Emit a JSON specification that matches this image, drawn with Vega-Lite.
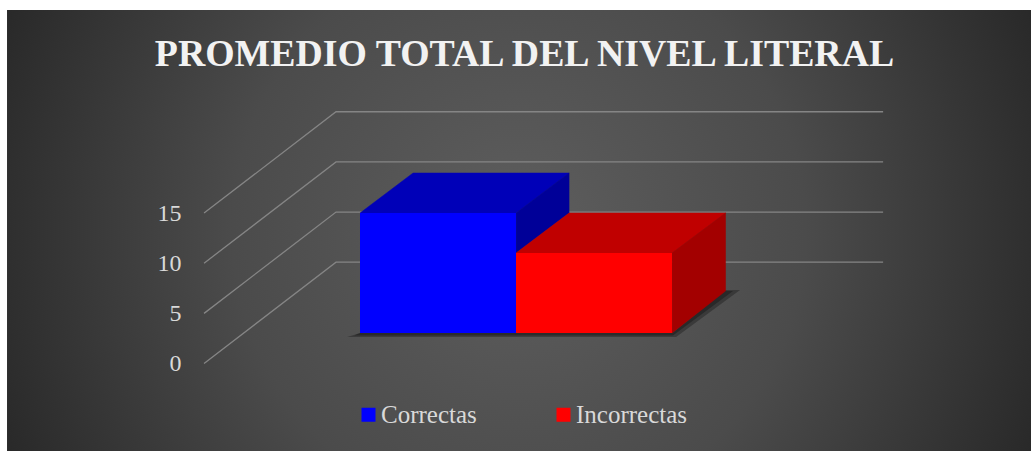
{
"$schema":"https://vega.github.io/schema/vega-lite/v6.json",
"width":1031,"height":451,
"autosize":{"type":"fit","contains":"padding"},
"padding":0,
"background":"#ffffff",
"config":{"view":{"stroke":null}},
"title":{"text":"PROMEDIO TOTAL DEL NIVEL LITERAL","font":"Liberation Serif","fontWeight":"bold","fontSize":37.8,"color":"#f2f2f2","anchor":"middle","frame":"group","offset":-74,"dx":9},
"datasets":{
"barras":[{"serie":"Correctas","valor":12},{"serie":"Incorrectas","valor":8}],
"rejilla":[
{"nivel":0,"orden":1,"x":-1.0,"y":0},{"nivel":0,"orden":2,"x":-0.154,"y":10.1},{"nivel":0,"orden":3,"x":3.353,"y":10.1},
{"nivel":5,"orden":1,"x":-1.0,"y":5},{"nivel":5,"orden":2,"x":-0.154,"y":15.1},{"nivel":5,"orden":3,"x":3.353,"y":15.1},
{"nivel":10,"orden":1,"x":-1.0,"y":10},{"nivel":10,"orden":2,"x":-0.154,"y":20.1},{"nivel":10,"orden":3,"x":3.353,"y":20.1},
{"nivel":15,"orden":1,"x":-1.0,"y":15},{"nivel":15,"orden":2,"x":-0.154,"y":25.1},{"nivel":15,"orden":3,"x":3.353,"y":25.1}
],
"sombra":[
{"capa":"exterior","orden":1,"x":-0.083,"y":-0.4},{"capa":"exterior","orden":2,"x":2.026,"y":-0.4},{"capa":"exterior","orden":3,"x":2.436,"y":4.3},{"capa":"exterior","orden":4,"x":2.34,"y":4.3},{"capa":"exterior","orden":5,"x":2,"y":0},{"capa":"exterior","orden":6,"x":0,"y":0},
{"capa":"interior","orden":1,"x":-0.038,"y":-0.25},{"capa":"interior","orden":2,"x":2.006,"y":-0.25},{"capa":"interior","orden":3,"x":2.391,"y":4.2},{"capa":"interior","orden":4,"x":2.34,"y":4.2},{"capa":"interior","orden":5,"x":2,"y":0},{"capa":"interior","orden":6,"x":0,"y":0}
],
"caras":[
{"cara":"Correctas superior","orden":1,"x":0,"y":12},{"cara":"Correctas superior","orden":2,"x":0.34,"y":16},{"cara":"Correctas superior","orden":3,"x":1.34,"y":16},{"cara":"Correctas superior","orden":4,"x":1,"y":12},
{"cara":"Correctas lateral","orden":1,"x":1,"y":12},{"cara":"Correctas lateral","orden":2,"x":1.34,"y":16},{"cara":"Correctas lateral","orden":3,"x":1.34,"y":12},{"cara":"Correctas lateral","orden":4,"x":1,"y":8},
{"cara":"Incorrectas superior","orden":1,"x":1,"y":8},{"cara":"Incorrectas superior","orden":2,"x":1.34,"y":12},{"cara":"Incorrectas superior","orden":3,"x":2.343,"y":12},{"cara":"Incorrectas superior","orden":4,"x":2,"y":8},
{"cara":"Incorrectas lateral","orden":1,"x":2,"y":8},{"cara":"Incorrectas lateral","orden":2,"x":2.343,"y":12},{"cara":"Incorrectas lateral","orden":3,"x":2.343,"y":4.2},{"cara":"Incorrectas lateral","orden":4,"x":2,"y":0}
]
},
"resolve":{"scale":{"x":"independent","y":"independent","color":"independent","fill":"independent","stroke":"independent","opacity":"independent"},"axis":{"x":"independent","y":"independent"},"legend":{"color":"independent"}},
"layer":[
{
"data":{"values":[{"panel":"fondo"}]},
"mark":{"type":"rect","fill":{"gradient":"radial","x1":0.5,"y1":0.5,"r1":0,"x2":0.5,"y2":0.5,"r2":0.56,"stops":[{"offset":0,"color":"#5e5e5e"},{"offset":0.5,"color":"#4b4b4b"},{"offset":1,"color":"#272727"}]}},
"encoding":{
"x":{"datum":-2.263,"type":"quantitative","scale":{"domain":[-2.308,4.301],"nice":false,"zero":false},"axis":null},
"x2":{"datum":4.301},
"y":{"datum":-11.8,"type":"quantitative","scale":{"domain":[-11.8,33.3],"nice":false,"zero":false},"axis":null},
"y2":{"datum":32.3}
}
},
{
"data":{"name":"rejilla"},
"mark":{"type":"line","stroke":"#858585","strokeWidth":1.3},
"encoding":{
"x":{"field":"x","type":"quantitative","scale":{"domain":[-2.308,4.301],"nice":false,"zero":false},"axis":null},
"y":{"field":"y","type":"quantitative","scale":{"domain":[-8.72,36.24],"nice":false,"zero":false},
"axis":{"title":null,"values":[0,5,10,15],"orient":"left","offset":-181,"domain":false,"ticks":false,"grid":false,"labelPadding":0,"labelFont":"Liberation Serif","labelFontSize":24,"labelColor":"#d9d9d9","zindex":1}},
"detail":{"field":"nivel","type":"nominal"},
"order":{"field":"orden","type":"quantitative"}
}
},
{
"data":{"name":"sombra"},
"mark":{"type":"line","fill":"#000000","fillOpacity":0.28,"strokeWidth":0,"stroke":null},
"encoding":{
"x":{"field":"x","type":"quantitative","scale":{"domain":[-2.308,4.301],"nice":false,"zero":false},"axis":null},
"y":{"field":"y","type":"quantitative","scale":{"domain":[-11.8,33.3],"nice":false,"zero":false},"axis":null},
"detail":{"field":"capa","type":"nominal"},
"order":{"field":"orden","type":"quantitative"}
}
},
{
"data":{"name":"caras"},
"mark":{"type":"line","strokeWidth":0.5},
"encoding":{
"x":{"field":"x","type":"quantitative","scale":{"domain":[-2.308,4.301],"nice":false,"zero":false},"axis":null},
"y":{"field":"y","type":"quantitative","scale":{"domain":[-11.8,33.3],"nice":false,"zero":false},"axis":null},
"fill":{"field":"cara","type":"nominal","scale":{"domain":["Correctas superior","Correctas lateral","Incorrectas superior","Incorrectas lateral"],"range":["#0000b8","#000098","#c00000","#a30000"]},"legend":null},
"stroke":{"field":"cara","type":"nominal","scale":{"domain":["Correctas superior","Correctas lateral","Incorrectas superior","Incorrectas lateral"],"range":["#0000b8","#000098","#c00000","#a30000"]},"legend":null},
"order":{"field":"orden","type":"quantitative"}
}
},
{
"data":{"name":"barras"},
"mark":{"type":"bar"},
"encoding":{
"x":{"field":"serie","type":"nominal","sort":null,"scale":{"domain":["Correctas","Incorrectas"],"range":[360,672],"paddingInner":0,"paddingOuter":0},"axis":null},
"y":{"field":"valor","type":"quantitative","scale":{"domain":[-11.8,33.3],"nice":false,"zero":false},"axis":null},
"color":{"field":"serie","type":"nominal","scale":{"domain":["Correctas","Incorrectas"],"range":["#0000ff","#ff0000"]},
"legend":{"title":null,"orient":"none","legendX":356,"legendY":402,"direction":"horizontal","symbolType":"square","symbolSize":196,"symbolStrokeWidth":0,"labelFont":"Liberation Serif","labelFontSize":25,"labelColor":"#d9d9d9","labelOffset":0,"columnPadding":74}}
}
}
]
}
